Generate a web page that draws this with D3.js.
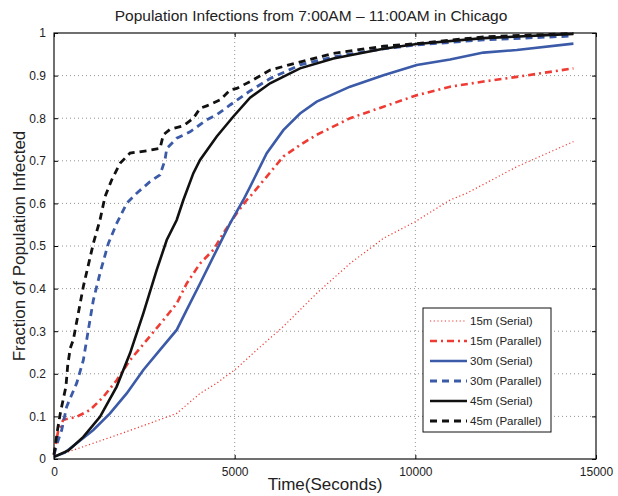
<!DOCTYPE html>
<html>
<head>
<meta charset="utf-8">
<script src="https://cdn.jsdelivr.net/npm/d3@7"></script>
<style>
  body { margin: 0; background: #fff; }
  text { font-family: "Liberation Sans", Arial, sans-serif; fill: #222; }
</style>
</head>
<body>
<script>
const width = 618;
const height = 496;
const margin = { top: 33, right: 22, bottom: 37, left: 54 };

// [time (s), fraction infected]
const serial15 = [[0,0.005],[812,0.029],[1735,0.056],[2657,0.084],[3396,0.107],[4042,0.154],[4504,0.178],[5057,0.213],[5611,0.256],[6347,0.311],[7271,0.389],[8193,0.459],[9118,0.518],[9993,0.557],[10961,0.608],[11424,0.624],[12807,0.686],[14375,0.745]];
const parallel15 = [[0,0.01],[119,0.068],[258,0.092],[628,0.099],[997,0.115],[1366,0.146],[1735,0.185],[2104,0.232],[2566,0.279],[3026,0.326],[3396,0.365],[3673,0.412],[4042,0.459],[4411,0.491],[4687,0.53],[5057,0.577],[5334,0.608],[5426,0.616],[5888,0.663],[6347,0.71],[6809,0.737],[7271,0.761],[8193,0.8],[9118,0.827],[10040,0.854],[10961,0.874],[11885,0.886],[12807,0.897],[14375,0.917]];
const serial30 = [[0,0.005],[300,0.015],[628,0.037],[1089,0.068],[1550,0.107],[2012,0.154],[2472,0.209],[2934,0.256],[3396,0.303],[3673,0.35],[4042,0.412],[4504,0.491],[4872,0.553],[5240,0.608],[5426,0.639],[5888,0.718],[6347,0.772],[6809,0.811],[7271,0.839],[8193,0.874],[9118,0.901],[10040,0.925],[10961,0.938],[11885,0.954],[12807,0.96],[14375,0.975]];
const parallel30 = [[0,0.01],[100,0.04],[213,0.068],[351,0.123],[628,0.178],[812,0.232],[950,0.303],[1089,0.373],[1273,0.436],[1504,0.506],[1735,0.553],[2012,0.6],[2289,0.624],[2657,0.651],[2934,0.667],[3072,0.702],[3120,0.729],[3396,0.753],[3765,0.768],[4226,0.796],[4504,0.808],[4872,0.831],[5426,0.864],[5980,0.893],[6809,0.925],[7733,0.944],[9118,0.963],[10040,0.972],[11885,0.984],[14375,0.993]];
const serial45 = [[0,0.005],[400,0.02],[812,0.052],[1273,0.099],[1735,0.17],[2104,0.248],[2472,0.342],[2843,0.444],[3120,0.514],[3396,0.561],[3580,0.608],[3857,0.671],[4042,0.702],[4504,0.757],[4964,0.804],[5426,0.848],[5980,0.882],[6809,0.917],[7733,0.94],[9118,0.963],[10040,0.974],[11885,0.988],[14375,0.998]];
const parallel45 = [[0,0.01],[100,0.07],[180,0.11],[330,0.17],[380,0.22],[450,0.26],[535,0.28],[812,0.405],[1089,0.506],[1273,0.561],[1412,0.616],[1596,0.655],[1827,0.694],[2104,0.718],[2600,0.724],[2934,0.729],[3026,0.761],[3211,0.774],[3580,0.782],[3857,0.8],[4042,0.823],[4226,0.829],[4596,0.843],[4872,0.866],[5057,0.87],[5426,0.886],[5980,0.913],[6718,0.93],[7733,0.952],[9118,0.969],[10040,0.975],[11885,0.991],[14375,0.999]];

const xTicks = [0, 5000, 10000, 15000];
const yTicks = [0, 0.1, 0.2, 0.3, 0.4, 0.5, 0.6, 0.7, 0.8, 0.9, 1];

const series = [
  { name: '15m (Serial)',   data: serial15,   color: '#ee3b33', w: 1.2, dash: '1.2,2.5' },
  { name: '15m (Parallel)', data: parallel15, color: '#ee3b33', w: 2.6, dash: '7,4,2,4' },
  { name: '30m (Serial)',   data: serial30,   color: '#3b5aa8', w: 2.6, dash: null },
  { name: '30m (Parallel)', data: parallel30, color: '#3b5aa8', w: 2.8, dash: '7,5' },
  { name: '45m (Serial)',   data: serial45,   color: '#111111', w: 2.6, dash: null },
  { name: '45m (Parallel)', data: parallel45, color: '#111111', w: 2.8, dash: '7,5' }
];

const x = d3.scaleLinear().domain([0, 15000]).range([margin.left, width - margin.right]);
const y = d3.scaleLinear().domain([0, 1]).range([height - margin.bottom, margin.top]);

const svg = d3.select('body').append('svg')
  .attr('width', width)
  .attr('height', height);

// grid
svg.append('g').selectAll('line')
  .data(xTicks.slice(1, -1))
  .join('line')
  .attr('x1', d => x(d)).attr('x2', d => x(d))
  .attr('y1', y(0)).attr('y2', y(1))
  .attr('stroke', '#777').attr('stroke-width', 0.8).attr('stroke-dasharray', '1,3');
svg.append('g').selectAll('line')
  .data(yTicks.slice(1, -1))
  .join('line')
  .attr('x1', x(0)).attr('x2', x(15000))
  .attr('y1', d => y(d)).attr('y2', d => y(d))
  .attr('stroke', '#777').attr('stroke-width', 0.8).attr('stroke-dasharray', '1,3');

// curves
const line = d3.line()
  .x(d => x(d[0]))
  .y(d => y(d[1]));

svg.append('g').selectAll('path')
  .data(series)
  .join('path')
  .attr('d', d => line(d.data))
  .attr('fill', 'none')
  .attr('stroke', d => d.color)
  .attr('stroke-width', d => d.w)
  .attr('stroke-dasharray', d => d.dash);

// axes, ticks inward on all four sides
svg.append('g')
  .attr('transform', `translate(0,${y(0)})`)
  .call(d3.axisBottom(x).tickValues(xTicks).tickFormat(d3.format('d')).tickSizeInner(-4).tickSizeOuter(0).tickPadding(8))
  .call(g => g.select('.domain').remove())
  .call(g => g.selectAll('text').attr('font-size', 12));
svg.append('g')
  .attr('transform', `translate(0,${y(1)})`)
  .call(d3.axisTop(x).tickValues(xTicks).tickSizeInner(-4).tickSizeOuter(0).tickFormat(''))
  .call(g => g.select('.domain').remove());
svg.append('g')
  .attr('transform', `translate(${x(0)},0)`)
  .call(d3.axisLeft(y).tickValues(yTicks).tickFormat(d => String(d)).tickSizeInner(-4).tickSizeOuter(0).tickPadding(8))
  .call(g => g.select('.domain').remove())
  .call(g => g.selectAll('text').attr('font-size', 12));
svg.append('g')
  .attr('transform', `translate(${x(15000)},0)`)
  .call(d3.axisRight(y).tickValues(yTicks).tickSizeInner(-4).tickSizeOuter(0).tickFormat(''))
  .call(g => g.select('.domain').remove());

svg.append('rect')
  .attr('x', x(0)).attr('y', y(1))
  .attr('width', x(15000) - x(0)).attr('height', y(0) - y(1))
  .attr('fill', 'none').attr('stroke', '#111').attr('stroke-width', 1.2);

// labels
svg.append('text')
  .attr('x', 311).attr('y', 21)
  .attr('text-anchor', 'middle').attr('font-size', 15.5)
  .text('Population Infections from 7:00AM \u2013 11:00AM in Chicago');
svg.append('text')
  .attr('x', (x(0) + x(15000)) / 2).attr('y', 490)
  .attr('text-anchor', 'middle').attr('font-size', 17)
  .text('Time(Seconds)');
svg.append('text')
  .attr('transform', `translate(25,${(y(0) + y(1)) / 2}) rotate(-90)`)
  .attr('text-anchor', 'middle').attr('font-size', 17)
  .text('Fraction of Population Infected');

// legend
const lg = svg.append('g').attr('transform', 'translate(423,308)');
lg.append('rect')
  .attr('width', 128).attr('height', 124)
  .attr('fill', '#fff').attr('stroke', '#111').attr('stroke-width', 1);
const item = lg.selectAll('g.item')
  .data(series)
  .join('g')
  .attr('class', 'item')
  .attr('transform', (d, i) => `translate(0,${13 + i * 20})`);
item.append('line')
  .attr('x1', 7).attr('x2', 44)
  .attr('stroke', d => d.color)
  .attr('stroke-width', d => d.w)
  .attr('stroke-dasharray', d => d.dash);
item.append('text')
  .attr('x', 47).attr('dy', '0.35em')
  .attr('font-size', 11.5)
  .text(d => d.name);
</script>
</body>
</html>
